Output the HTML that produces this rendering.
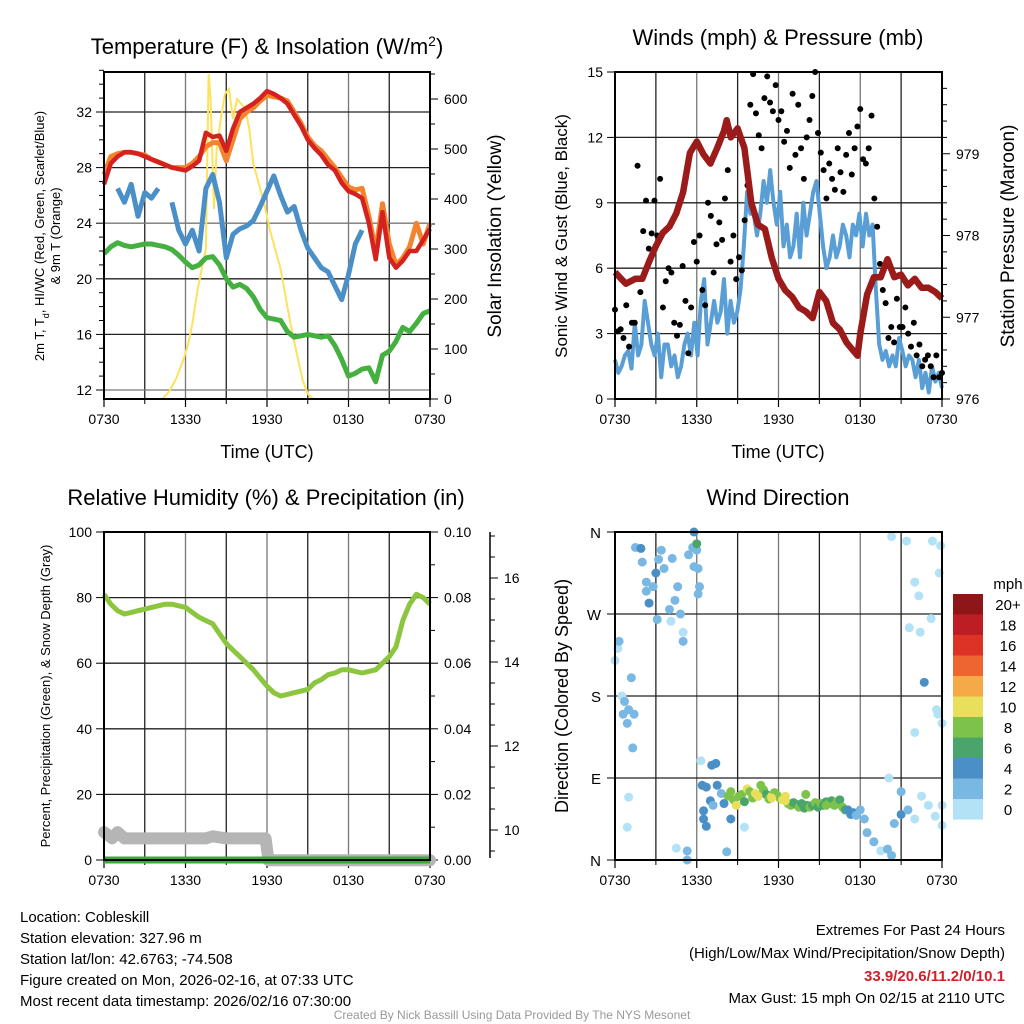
<!DOCTYPE html>
<html><head><meta charset="utf-8"><style>
html,body{margin:0;padding:0;background:#fff;}
svg{display:block;font-family:"Liberation Sans",Arial,sans-serif;}
</style></head><body>
<svg id="s" width="1024" height="1024" viewBox="0 0 1024 1024" xmlns="http://www.w3.org/2000/svg">
<rect width="1024" height="1024" fill="#fff"/>
<text x="267" y="54" font-size="22" text-anchor="middle">Temperature (F) &amp; Insolation (W/m<tspan baseline-shift="super" font-size="14">2</tspan>)</text>
<text x="778" y="45" font-size="22" text-anchor="middle">Winds (mph) &amp; Pressure (mb)</text>
<text x="266" y="505" font-size="22" text-anchor="middle">Relative Humidity (%) &amp; Precipitation (in)</text>
<text x="778" y="505" font-size="22" text-anchor="middle">Wind Direction</text>
<g id="g1"></g>
<g id="g2"></g>
<g id="g3"></g>
<g id="g4"></g>
<g font-size="15">
<text x="20" y="922">Location: Cobleskill</text>
<text x="20" y="943">Station elevation: 327.96 m</text>
<text x="20" y="964">Station lat/lon: 42.6763; -74.508</text>
<text x="20" y="985">Figure created on Mon, 2026-02-16, at 07:33 UTC</text>
<text x="20" y="1006">Most recent data timestamp: 2026/02/16 07:30:00</text>
</g>
<g font-size="15" text-anchor="end">
<text x="1005" y="935">Extremes For Past 24 Hours</text>
<text x="1005" y="958">(High/Low/Max Wind/Precipitation/Snow Depth)</text>
<text x="1005" y="981" fill="#d0202a" font-weight="bold">33.9/20.6/11.2/0/10.1</text>
<text x="1005" y="1003">Max Gust: 15 mph On 02/15 at 2110 UTC</text>
</g>
<text x="512" y="1019" font-size="12" fill="#999" text-anchor="middle">Created By Nick Bassill Using Data Provided By The NYS Mesonet</text>
</svg>
<script>
// ---------- data (hours since 0730 UTC) ----------
const xTickLabels=["0730","1330","1930","0130","0730"];
const halfHours=[0,0.5,1,1.5,2,2.5,3,3.5,4,4.5,5,5.5,6,6.5,7,7.5,8,8.5,9,9.5,10,10.5,11,11.5,12,12.5,13,13.5,14,14.5,15,15.5,16,16.5,17,17.5,18,18.5,19,19.5,20,20.5,21,21.5,22,22.5,23,23.5,24];
const tempRed=[26.8,28.3,28.8,29.1,29.1,29.0,28.8,28.6,28.4,28.2,28.0,27.9,27.8,28.1,28.5,30.5,30.2,30.3,29.2,30.8,32.0,32.3,32.6,33.0,33.5,33.3,33.0,32.6,31.8,31.0,30.0,29.4,28.9,28.2,27.8,26.9,26.3,26.1,25.8,24.0,21.4,24.8,21.5,20.8,21.3,22.0,22.0,22.8,23.6];
const tempOrange=[27.5,28.8,29.0,29.1,29.1,29.0,28.9,28.6,28.4,28.2,28.0,28.0,28.0,28.3,28.8,29.5,29.8,29.8,28.5,30.0,31.5,32.0,32.3,32.8,33.2,33.1,33.0,32.8,32.0,31.2,30.2,29.6,29.2,28.6,28.0,27.3,26.6,26.4,26.5,24.5,22.0,25.4,22.5,21.0,21.5,22.3,24.0,22.5,24.0];
const tempDew=[21.8,22.3,22.6,22.4,22.3,22.4,22.5,22.5,22.4,22.3,22.1,21.7,21.2,20.8,21.0,21.5,21.6,21.0,20.0,19.4,19.6,19.3,18.7,17.8,17.2,17.1,17.0,16.2,15.8,15.9,16.0,15.9,15.8,15.9,15.2,14.2,13.0,13.2,13.5,13.6,12.6,14.5,14.8,15.5,16.5,16.2,16.8,17.5,17.7];
const tempChill=[null,null,26.5,25.5,26.8,24.5,26.2,25.8,26.5,null,25.5,23.5,22.5,23.5,22.0,26.5,27.5,25.5,21.5,23.2,23.6,23.8,24.2,25.2,26.3,27.4,26.0,24.8,25.2,23.5,22.2,21.5,20.8,20.5,19.5,18.5,20.3,22.5,23.5,null,22.5,null,23.0,null,null,null,null,null,null];
const solarHours=[0,4.3,4.8,5.3,5.8,6.2,6.5,6.9,7.2,7.5,7.7,7.85,8.1,8.3,8.6,8.9,9.2,9.5,9.8,10.1,10.4,10.7,11.0,11.4,11.8,12.2,12.6,13.0,13.4,13.8,14.2,14.6,15.0,15.4,24];
const solarVals=[0,0,15,40,75,110,150,220,260,300,650,600,380,500,560,610,620,560,600,590,580,540,470,430,390,340,300,260,200,140,90,40,10,0,0];
const windBlue=[1.8,1.2,1.5,2.0,2.2,1.4,3.5,2.0,2.5,4.5,3.5,2.5,2.0,3.0,1.0,2.5,2.5,1.5,2.0,1.0,1.5,2.5,3.0,2.0,3.5,2.0,4.5,5.5,2.5,3.5,4.5,3.5,4.0,5.5,3.0,4.5,3.5,4.0,5.0,7.0,9.5,8.5,8.5,7.5,8.5,10.0,9.0,10.5,9.0,8.0,9.5,7.0,8.0,6.5,7.0,8.5,6.5,9.0,7.5,8.5,9.5,10.0,8.5,7.0,6.0,6.5,7.5,6.5,7.0,8.0,7.5,6.5,8.0,7.5,8.5,7.0,8.5,7.5,8.0,5.0,2.5,1.8,2.2,1.5,2.0,1.5,2.8,2.2,1.5,2.0,1.8,1.0,1.8,0.5,1.2,0.3,1.5,0.8,1.2,0.5];
const windGust=[4.1,3.1,3.2,2.8,4.3,2.4,3.5,3.5,10.7,4.9,7.7,9.1,6.9,7.6,9.1,7.5,10.1,4.2,5.4,6.0,5.8,3.5,2.9,3.4,6.1,4.5,2.1,4.2,7.2,6.3,7.5,5.0,4.3,9.0,8.4,5.8,7.1,8.1,7.3,9.2,10.5,6.3,7.5,5.5,6.5,5.9,8.2,9.8,13.5,14.9,13.1,12.1,11.5,13.8,14.8,13.6,13.2,14.4,12.8,13.2,11.8,12.3,10.6,14.0,11.2,13.5,11.5,10.1,12.0,12.8,13.9,15.0,12.2,11.3,10.5,9.2,10.8,10.1,9.6,11.5,10.4,9.5,11.2,12.2,10.3,11.5,12.5,13.3,11.0,10.8,11.5,13.0,9.2,7.9,6.2,5.0,4.4,2.8,3.3,2.6,4.6,3.3,3.3,4.2,3.0,2.4,3.5,2.0,2.5,1.5,1.8,2.0,1.5,1.0,2.0,1.0,1.2];
const pressHours=[0,0.8,1.5,2,2.5,3,3.5,4,4.5,5,5.5,6,6.5,7,7.5,8,8.2,8.5,9,9.5,10,10.5,11,11.5,12,12.5,13,13.5,14,14.5,15,15.5,16,16.5,17,17.5,17.8,18,18.5,19,19.5,20,20.5,21,21.5,22,22.5,23,23.5,24];
const pressVals=[977.55,977.41,977.47,977.47,977.68,977.87,978.03,978.11,978.27,978.53,979.01,979.15,978.99,978.88,979.07,979.28,979.41,979.2,979.31,979.07,978.4,978.13,978.08,977.73,977.47,977.33,977.25,977.12,977.07,976.99,977.31,977.2,976.93,976.85,976.69,976.59,976.53,976.8,977.28,977.49,977.49,977.71,977.49,977.52,977.39,977.47,977.36,977.36,977.31,977.23];
const rhVals=[81,78,76,75,75.5,76,76.5,77,77.5,78,78,77.5,77,75.5,74,73,72,69,66,64,62,60,58,55.5,53,51,50,50.5,51,51.5,52,54,55,56.5,57,58,58,57.5,57,57.5,58,60,62,65,73,78,81,80,78];
const snowHours=[0,0.6,1,1.5,2,4,6,7.5,8,9,10,11,11.9,12.1,24];
const snowDepth=[9.95,9.8,9.95,9.8,9.8,9.8,9.8,9.8,9.85,9.8,9.8,9.8,9.8,9.28,9.28];
const precipVals=[0,0];
const dirHours=[0,0.2,0.3,0.5,0.7,0.6,1.2,1.0,0.9,1.3,1.4,1.0,0.9,1.5,1.9,2.0,2.3,2.5,2.3,2.8,3.2,3.0,3.4,3.6,4.0,3.1,4.2,4.6,4.4,4.8,5.0,5.0,5.4,5.7,5.8,5.8,6.0,6.0,6.1,6.2,6.1,4.1,4.5,5.3,5.3,6.3,6.4,6.7,6.5,6.5,6.7,7.1,7.4,7.5,7.0,7.2,8.2,8.5,7.8,8.0,8.3,8.5,8.7,8.9,9.1,9.3,9.5,9.7,9.9,10.1,10.3,10.5,10.7,10.9,11.1,11.3,11.5,11.7,11.9,12.1,12.3,12.5,12.7,12.9,13.1,13.3,13.5,13.7,13.9,14.1,14.3,14.5,14.7,14.9,15.1,15.3,15.5,15.7,15.9,16.1,16.3,16.5,16.7,16.9,17.1,17.3,17.5,17.7,18.0,18.3,18.5,19.0,19.5,20.0,20.3,20.5,21.0,21.5,22.0,22.5,23.0,23.5,24.0,20.1,20.3,21.4,22.0,22.3,22.4,21.6,22.7,23.2,23.3,23.9,23.8,23.7,23.6,24.0,22.0,21.0,24.0,9.5,10.5,11.5,12.5,14.0,15.5];
const dirVals=[219,232,240,180,174,160,200,165,150,123,160,69,36,343,342,327,305,282,295,300,330,315,340,320,275,264,331,300,285,270,250,240,335,343,360,322,340,347,320,300,292,262,13,10,0,109,82,80,54,45,37,104,106,82,65,60,9,45,73,62,70,75,66,60,70,72,64,78,75,68,73,70,82,77,72,67,70,74,71,68,66,70,62,60,63,61,58,62,57,60,58,60,63,58,62,60,64,62,65,60,64,66,58,55,55,50,52,49,55,45,30,20,10,12,5,40,50,55,45,70,60,48,60,90,355,350,305,290,250,255,195,265,350,345,315,160,165,150,140,75,38,36,70,68,65,72,60,63];
const dirSpeeds=[1,1,2,0,2,2,2,2,3,3,2,0,0,2,4,2,2,4,3,3,2,4,2,2,2,3,2,3,2,2,1,3,2,3,4,2,2,6,2,2,2,1,0,3,2,1,4,4,4,4,4,4,4,4,4,2,2,4,2,4,8,9,8,10,8,9,6,10,8,9,10,8,9,8,7,9,10,9,8,8,10,11,8,9,7,6,8,7,6,7,8,6,8,7,8,7,6,8,7,8,9,7,8,7,4,4,4,3,2,3,2,2,1,3,2,3,4,2,1,0,0,1,0,0,0,0,0,0,0,0,4,0,0,0,0,1,1,0,0,2,1,0,10,10,10,9,8,9];
const cbarLabels=["20+","18","16","14","12","10","8","6","4","2","0"];
const cbarColors=["#8e1518","#bd1e24","#dd3327","#ee6530","#f5a947","#e8e05a","#7dc24a","#4aa56b","#4a8fc6","#7ab8e4","#b3e2f7"];
const quarterHours=windBlue.map((_,i)=>i*24/(windBlue.length-1));
const gustHours=windGust.map((_,i)=>i*24/(windGust.length-1));

// ---------- helpers ----------
const NS="http://www.w3.org/2000/svg";
function mk(tag,attrs,parent){const e=document.createElementNS(NS,tag);for(const k in attrs)e.setAttribute(k,attrs[k]);parent.appendChild(e);return e;}
function lin(d0,d1,r0,r1){return v=>r0+(v-d0)*(r1-r0)/(d1-d0);}
function pathD(xs,ys,fx,fy){let d="",pen=false;for(let i=0;i<xs.length;i++){if(ys[i]==null){pen=false;continue;}d+=(pen?"L":"M")+fx(xs[i]).toFixed(1)+","+fy(ys[i]).toFixed(1);pen=true;}return d;}
function frame(g,x0,x1,y0,y1){
  const X=lin(0,24,x0,x1);
  for(let h=3;h<24;h+=3){const l=mk("line",{x1:X(h),x2:X(h),y1:y0,y2:y1,stroke:h%6==0?"#777":"#222","stroke-width":1.3},g);
  
  }
  xTickLabels.forEach((t,i)=>{const x=X(i*6);
    mk("line",{x1:x,x2:x,y1:y1,y2:y1+8,stroke:"#000","stroke-width":1.2},g);
    const tx=mk("text",{x:x,y:y1+25,"font-size":14,"text-anchor":"middle"},g);tx.textContent=t;
    
    });
  for(let h=3;h<24;h+=6){mk("line",{x1:X(h),x2:X(h),y1:y1,y2:y1+5,stroke:"#000"},g);}
  return X;
}
function box(g,x0,x1,y0,y1){const r=mk("rect",{x:x0,y:y0,width:x1-x0,height:y1-y0,fill:"none",stroke:"#000","stroke-width":2},g);

}
function hgrid(g,x0,x1,y,col){const l=mk("line",{x1:x0,x2:x1,y1:y,y2:y,stroke:col||"#222","stroke-width":1.3},g);

}
function lab(g,x,y,t,anchor,size,name){const e=mk("text",{x:x,y:y,"font-size":size||14,"text-anchor":anchor||"middle"},g);e.textContent=t;

return e;}
function vlab(g,x,y,t,size,name){const e=mk("text",{x:0,y:0,"font-size":size,"text-anchor":"middle",transform:`translate(${x},${y}) rotate(-90)`},g);e.textContent=t;

return e;}

// ---------- panel 1 ----------
(function(){
const g=document.getElementById("g1");const x0=104,x1=430,y0=72,y1=399;
const X=frame(g,x0,x1,y0,y1);
const T=v=>390-(v-12)*13.9, S=v=>399-v*0.5;
[12,16,20,24,28,32].forEach(v=>{hgrid(g,x0,x1,T(v),(v==12||v==24)?"#777":"#222");mk("line",{x1:x0-8,x2:x0,y1:T(v),y2:T(v),stroke:"#000"},g);lab(g,x0-12,T(v)+5,String(v),"end");});
for(let v=12;v<=35;v++){if(v%4)mk("line",{x1:x0-5,x2:x0,y1:T(v),y2:T(v),stroke:"#000"},g);}
for(let v=0;v<=650;v+=50){mk("line",{x1:x1,x2:x1+(v%100?5:8),y1:S(v),y2:S(v),stroke:"#000"},g);if(v%100==0)lab(g,x1+14,S(v)+5,String(v),"start");}
const sol=mk("path",{d:pathD(solarHours,solarVals,X,S),fill:"none",stroke:"#fde25a","stroke-width":2},g);


const ch=mk("path",{d:pathD(halfHours,tempChill,X,T),fill:"none",stroke:"#4b8fc8","stroke-width":5,"stroke-linejoin":"round"},g);


const dw=mk("path",{d:pathD(halfHours,tempDew,X,T),fill:"none",stroke:"#43b040","stroke-width":5,"stroke-linejoin":"round"},g);


const or=mk("path",{d:pathD(halfHours,tempOrange,X,T),fill:"none",stroke:"#f4832e","stroke-width":5,"stroke-linejoin":"round"},g);


const rd=mk("path",{d:pathD(halfHours,tempRed,X,T),fill:"none",stroke:"#d42220","stroke-width":4.5,"stroke-linejoin":"round"},g);


box(g,x0,x1,y0,y1);
lab(g,267,458,"Time (UTC)","middle",18,"x-axis-title");
const t1=mk("text",{x:0,y:0,"font-size":13,"text-anchor":"middle",transform:"translate(44,236) rotate(-90)"},g);
t1.innerHTML='2m T, T<tspan baseline-shift="sub" font-size="9">d</tspan>, HI/WC (Red, Green, Scarlet/Blue)';


vlab(g,60,236,"& 9m T (Orange)",13,"left-y-axis-title-line2");
vlab(g,501,236,"Solar Insolation (Yellow)",19,"right-y-axis-title");
})();

// ---------- panel 2 ----------
(function(){
const g=document.getElementById("g2");const x0=615,x1=942,y0=72,y1=399;
const X=frame(g,x0,x1,y0,y1);
const W=lin(0,15,y1,y0), P=lin(976,980,y1,y0);
[0,3,6,9,12,15].forEach(v=>{if(v>0&&v<15)hgrid(g,x0,x1,W(v));mk("line",{x1:x0-8,x2:x0,y1:W(v),y2:W(v),stroke:"#000"},g);lab(g,x0-12,W(v)+5,String(v),"end");});
for(let v=976;v<=980;v+=0.2){const M=Math.abs(v-Math.round(v))<0.01;mk("line",{x1:x1,x2:x1+(M?8:5),y1:P(v),y2:P(v),stroke:"#000"},g);if(M)lab(g,x1+14,P(v)+5,String(Math.round(v)),"start");}
const bl=mk("path",{d:pathD(quarterHours,windBlue,X,W),fill:"none",stroke:"#5a9ed6","stroke-width":4,"stroke-linejoin":"round"},g);


windGust.forEach((v,i)=>{const c=mk("circle",{cx:X(gustHours[i]),cy:W(v),r:3,fill:"#000"},g);

});
const pr=mk("path",{d:pathD(pressHours,pressVals,X,P),fill:"none",stroke:"#9b1b1b","stroke-width":6.5,"stroke-linejoin":"round"},g);


box(g,x0,x1,y0,y1);
lab(g,778,458,"Time (UTC)","middle",18,"x-axis-title");
vlab(g,567,236,"Sonic Wind & Gust (Blue, Black)",17,"left-y-axis-title");
vlab(g,1014,236,"Station Pressure (Maroon)",19,"right-y-axis-title");
})();

// ---------- panel 3 ----------
(function(){
const g=document.getElementById("g3");const x0=104,x1=430,y0=532,y1=860;
const X=frame(g,x0,x1,y0,y1);
const R=lin(0,100,y1,y0), SD=lin(10,16,830,578);
[0,20,40,60,80,100].forEach(v=>{if(v>0&&v<100)hgrid(g,x0,x1,R(v));mk("line",{x1:x0-8,x2:x0,y1:R(v),y2:R(v),stroke:"#000"},g);lab(g,x0-12,R(v)+5,String(v),"end");mk("line",{x1:x1,x2:x1+8,y1:R(v),y2:R(v),stroke:"#000"},g);lab(g,x1+14,R(v)+5,(v/1000).toFixed(2),"start");});
for(let v=10;v<=100;v+=20){mk("line",{x1:x1,x2:x1+5,y1:R(v),y2:R(v),stroke:"#000"},g);}
const ax=mk("line",{x1:490,x2:490,y1:y0,y2:858,stroke:"#000","stroke-width":1.5},g);


[10,12,14,16].forEach(v=>{mk("line",{x1:490,x2:498,y1:SD(v),y2:SD(v),stroke:"#000"},g);lab(g,504,SD(v)+5,String(v),"start");});
for(let v=9.5;v<=17;v+=0.5){if(v%2)mk("line",{x1:490,x2:495,y1:SD(v),y2:SD(v),stroke:"#000"},g);}
const sn=mk("path",{d:pathD(snowHours,snowDepth,X,SD),fill:"none",stroke:"#b5b5b5","stroke-width":12,"stroke-linejoin":"round","stroke-linecap":"round"},g);


const pc=mk("path",{d:pathD([0,24],precipVals,X,v=>R(v*1000)),fill:"none",stroke:"#3aa83a","stroke-width":7},g);


const rh=mk("path",{d:pathD(halfHours,rhVals,X,R),fill:"none",stroke:"#8cc63f","stroke-width":5,"stroke-linejoin":"round"},g);


box(g,x0,x1,y0,y1);
vlab(g,50,696,"Percent, Precipitation (Green), & Snow Depth (Gray)",13,"left-y-axis-title");
})();

// ---------- panel 4 ----------
(function(){
const g=document.getElementById("g4");const x0=615,x1=942,y0=532,y1=860;
const X=frame(g,x0,x1,y0,y1);
const D=lin(0,360,y1,y0);
[["N",0],["E",90],["S",180],["W",270],["N",360]].forEach(([t,v])=>{if(v>0&&v<360)hgrid(g,x0,x1,D(v));mk("line",{x1:x0-8,x2:x0,y1:D(v),y2:D(v),stroke:"#000"},g);lab(g,x0-14,D(v)+6,t,"end",15,"direction-tick-label");});
const n=Math.min(dirHours.length,dirVals.length,dirSpeeds.length);
for(let i=0;i<n;i++){const v=dirVals[i];const k=Math.min(10,Math.floor(dirSpeeds[i]/2));
const c=mk("circle",{cx:X(dirHours[i]),cy:D(v),r:4.5,fill:cbarColors[10-k]},g);

}
box(g,x0,x1,y0,y1);
vlab(g,568,696,"Direction (Colored By Speed)",18,"y-axis-title");
lab(g,1008,589,"mph","middle",15,"colorbar-title");
cbarLabels.forEach((t,i)=>{const r=mk("rect",{x:953,y:594+i*20.5,width:30,height:20.6,fill:cbarColors[i]},g);


lab(g,1008,594+i*20.5+16,t,"middle",15,"colorbar-label");});
})();
</script>
</body></html>
